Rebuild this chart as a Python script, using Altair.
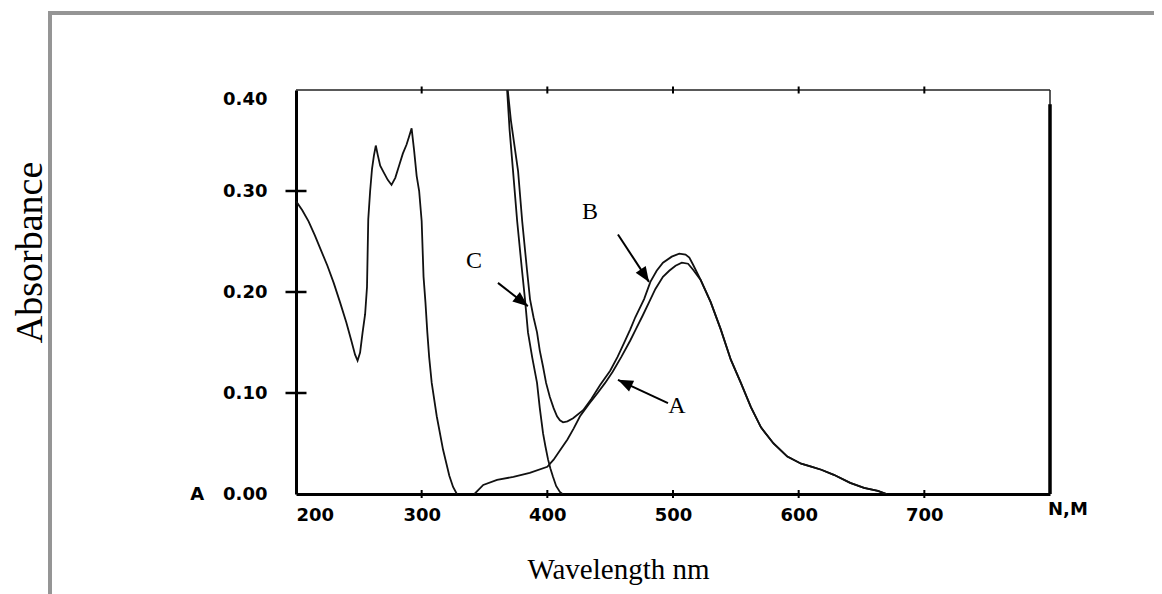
import altair as alt
import pandas as pd

# ---------------- data ----------------
uv_nm = [200, 205, 210, 215, 220, 225, 230, 235, 240, 244, 247, 249, 251, 253, 255,
         256.5, 257.5, 259, 260.5, 262, 263.5, 265, 267, 270, 273, 276, 279, 282, 285,
         288, 290, 292, 294, 296, 298, 300, 301.5, 303, 304.5, 306, 308, 312, 317, 322, 325, 328]
uv_abs = [0.290, 0.281, 0.270, 0.256, 0.241, 0.226, 0.209, 0.190, 0.170, 0.152, 0.138, 0.132, 0.140, 0.160, 0.178,
          0.205, 0.272, 0.300, 0.322, 0.335, 0.345, 0.336, 0.325, 0.318, 0.311, 0.306, 0.313, 0.325, 0.337,
          0.346, 0.354, 0.362, 0.340, 0.315, 0.300, 0.270, 0.215, 0.190, 0.160, 0.135, 0.110, 0.077, 0.044, 0.018, 0.007, 0.000]

c_nm = [366, 368, 370, 372.7, 376, 379.8, 382.2, 384.6, 388, 391.8, 394, 396.6, 398.5,
        400.6, 402.5, 404.5, 407, 410, 412]
c_abs = [0.43, 0.40, 0.36, 0.32, 0.27, 0.222, 0.193, 0.16, 0.135, 0.11, 0.085, 0.06, 0.047,
         0.034, 0.025, 0.017, 0.008, 0.002, 0.0]

b_nm = [367, 368.5, 371, 376.7, 380, 383.8, 386.2, 389, 391.8, 394,
        396.6, 399, 402, 405, 407.7, 410, 412.5, 416, 420.5, 428.5,
        435, 442, 450, 456, 462, 466, 470, 477, 482, 487,
        492, 499, 505, 510, 513, 516, 522, 530, 538, 546,
        554, 562, 570, 580, 591, 602, 610, 618, 628, 641,
        652, 663, 670]
b_abs = [0.43, 0.40, 0.37, 0.32, 0.27, 0.222, 0.193, 0.175, 0.16, 0.142,
         0.126, 0.11, 0.096, 0.085, 0.077, 0.073, 0.071, 0.072, 0.075, 0.083,
         0.094, 0.108, 0.122, 0.136, 0.152, 0.163, 0.175, 0.193, 0.21, 0.221,
         0.229, 0.235, 0.238, 0.237, 0.234, 0.227, 0.212, 0.19, 0.163, 0.133,
         0.11, 0.086, 0.066, 0.05, 0.037, 0.03, 0.027, 0.024, 0.019, 0.011,
         0.006, 0.003, 0.0]

a_nm = [342, 349, 360, 373, 386, 400, 405, 410, 416, 421,
        426, 433, 440, 446, 452, 459, 466, 470, 476, 481,
        486, 492, 497, 502, 507, 512, 516, 522, 530, 538,
        546, 554, 562, 570, 580, 591, 602, 610, 618, 628,
        641, 652, 663, 670]
a_abs = [0.0, 0.009, 0.014, 0.017, 0.021, 0.027, 0.034, 0.043, 0.054, 0.065,
         0.077, 0.089, 0.100, 0.110, 0.121, 0.136, 0.152, 0.162, 0.177, 0.190,
         0.203, 0.215, 0.221, 0.226, 0.229, 0.228, 0.222, 0.212, 0.19, 0.163,
         0.133, 0.11, 0.086, 0.066, 0.05, 0.037, 0.03, 0.027, 0.024, 0.019,
         0.011, 0.006, 0.003, 0.0]

x_tick_values = [200, 300, 400, 500, 600, 700]
y_tick_values = [0.0, 0.1, 0.2, 0.3, 0.4]

# annotations: label letters, arrows (tail -> tip) and arrow-head angle
ann_label = ["A", "B", "C"]
ann_nm = [503.2, 433.9, 341.6]
ann_abs = [0.087, 0.279, 0.231]
arrow_tail_nm = [496.0, 456.2, 360.7]
arrow_tail_abs = [0.090, 0.257, 0.209]
arrow_tip_nm = [456.2, 480.9, 384.5]
arrow_tip_abs = [0.113, 0.210, 0.186]
arrow_angle = [294.7, 146.6, 128.7]

# ---------------- tables ----------------
rows = []
for name, xs_, ys_ in [("UV", uv_nm, uv_abs), ("C", c_nm, c_abs),
                       ("B", b_nm, b_abs), ("A", a_nm, a_abs)]:
    for i, (x, y) in enumerate(zip(xs_, ys_)):
        rows.append({"series": name, "order": i, "nm": x, "abs": y})
curves = pd.DataFrame(rows)

ann_df = pd.DataFrame({"label": ann_label, "nm": ann_nm, "abs": ann_abs})
arrow_df = pd.DataFrame({"nm": arrow_tail_nm, "abs": arrow_tail_abs,
                         "nm2": arrow_tip_nm, "abs2": arrow_tip_abs})
head_df = pd.DataFrame({"nm": arrow_tip_nm, "abs": arrow_tip_abs, "angle": arrow_angle})

x_min, x_max = 200, 800
y_min, y_max = 0.0, 0.4
top_df = pd.DataFrame({"nm": [x_min], "nm2": [x_max], "abs": [y_max]})
right_thin_df = pd.DataFrame({"nm": [x_max], "abs": [y_min], "abs2": [y_max]})
right_thick_df = pd.DataFrame({"nm": [x_max], "abs": [y_min], "abs2": [0.386]})
xt_bottom = pd.DataFrame({"nm": x_tick_values[1:], "abs": [y_min] * 5})
xt_top = pd.DataFrame({"nm": x_tick_values[1:], "abs": [y_max] * 5})
yt_df = pd.DataFrame({"nm": [x_min] * 3, "abs": y_tick_values[1:4]})
nm_label_df = pd.DataFrame({"nm": [x_max], "abs": [y_min], "t": ["N,M"]})

# ---------------- chart ----------------
xs = alt.Scale(domain=[x_min, x_max], nice=False, zero=False)
ys = alt.Scale(domain=[y_min, y_max], nice=False, zero=False)

BOLD = "DejaVu Sans"
SERIF = "Liberation Serif"


def X(f="nm"):
    return alt.X(f"{f}:Q", scale=xs, title="Wavelength nm")


def Y(f="abs"):
    return alt.Y(f"{f}:Q", scale=ys, title="Absorbance")


x_axis = alt.Axis(values=x_tick_values, format="d", ticks=False, tickSize=0,
                  labelPadding=12, labelFlush=True, grid=False,
                  domainWidth=3, domainColor="black",
                  labelFont=BOLD, labelFontWeight="bold", labelFontSize=18, labelColor="black",
                  title="Wavelength nm", titleFont=SERIF, titleFontSize=29,
                  titleFontWeight="normal", titleColor="black",
                  titleX=322, titleY=84, titleBaseline="alphabetic", titleAlign="center")

y_axis = alt.Axis(values=y_tick_values, ticks=False, tickSize=0, labelPadding=29, grid=False,
                  labelExpr="datum.value == 0 ? 'A\u00a0\u00a0\u00a00.00' : format(datum.value, '.2f')",
                  labelBaseline={"condition": {"test": "datum.value >= 0.399", "value": "top"},
                                 "value": "middle"},
                  domainWidth=3, domainColor="black",
                  labelFont=BOLD, labelFontWeight="bold", labelFontSize=18, labelColor="black",
                  title="Absorbance", titleFont=SERIF, titleFontSize=38,
                  titleFontWeight="normal", titleColor="black",
                  titleX=-255, titleY=162, titleAngle=270,
                  titleBaseline="alphabetic", titleAlign="center")

lines = alt.Chart(curves).mark_line(color="#111111", strokeWidth=1.8, clip=True).encode(
    x=alt.X("nm:Q", scale=xs, axis=x_axis),
    y=alt.Y("abs:Q", scale=ys, axis=y_axis),
    detail="series:N",
    order="order:Q",
)

top_line = alt.Chart(top_df).mark_rule(color="#222222", strokeWidth=1.5).encode(
    x=X(), x2="nm2:Q", y=Y())
right_thin = alt.Chart(right_thin_df).mark_rule(color="#222222", strokeWidth=1.5).encode(
    x=X(), y=Y(), y2="abs2:Q")
right_thick = alt.Chart(right_thick_df).mark_rule(color="black", strokeWidth=3.5).encode(
    x=X(), y=Y(), y2="abs2:Q")

ticks_bottom = alt.Chart(xt_bottom).mark_tick(orient="vertical", size=8, thickness=2,
                                              color="black", opacity=1).encode(x=X(), y=Y())
ticks_top = alt.Chart(xt_top).mark_tick(orient="vertical", size=7, thickness=2,
                                        color="black", opacity=1).encode(x=X(), y=Y())
ticks_y = alt.Chart(yt_df).mark_tick(orient="horizontal", size=21, thickness=2.5,
                                     color="black", opacity=1).encode(x=X(), y=Y())

arrows = alt.Chart(arrow_df).mark_rule(color="black", strokeWidth=2).encode(
    x=X(), y=Y(), x2="nm2:Q", y2="abs2:Q")
heads = alt.Chart(head_df).mark_point(shape="M0,0L0.4,1L-0.4,1Z", filled=True, size=900,
                                      color="black", opacity=1, strokeWidth=0).encode(
    x=X(), y=Y(), angle=alt.Angle("angle:Q", scale=None))
letters = alt.Chart(ann_df).mark_text(font=SERIF, fontSize=24, color="black",
                                      align="center", baseline="middle").encode(
    x=X(), y=Y(), text="label:N")
nm_text = alt.Chart(nm_label_df).mark_text(font=BOLD, fontWeight="bold", fontSize=18,
                                           color="black", align="left", baseline="top",
                                           dx=-2, dy=7).encode(
    x=X(), y=Y(), text="t:N")

# decorative grey page frame (pixel positions relative to the plot area)
frame_left = alt.Chart(top_df).mark_rule(color="#959595", strokeWidth=4).encode(
    x=alt.value(-246), y=alt.value(-77), y2=alt.value(520))
frame_top = alt.Chart(top_df).mark_rule(color="#959595", strokeWidth=4).encode(
    x=alt.value(-248), x2=alt.value(880), y=alt.value(-77))

chart = alt.layer(
    lines, top_line, right_thin, right_thick, ticks_bottom, ticks_top, ticks_y,
    arrows, heads, letters, nm_text, frame_left, frame_top,
).properties(
    width=754, height=404,
    autosize=alt.AutoSizeParams(type="none"),
    padding={"left": 288, "top": 82, "right": 104, "bottom": 100},
    background="white",
).configure_view(stroke=None)

chart.save("out.html", embed_options={"renderer": "svg", "actions": False})
